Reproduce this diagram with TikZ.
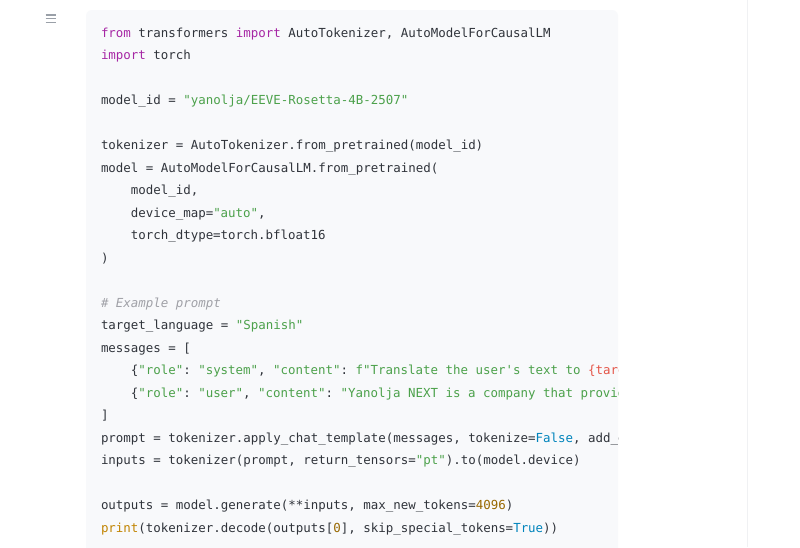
\documentclass[tikz,border=0pt]{standalone}
\usepackage{fontspec}
\setmonofont{DejaVu Sans Mono}
\definecolor{txt}{HTML}{30343B}
\definecolor{kwc}{HTML}{A626A4}
\definecolor{stc}{HTML}{4CA14B}
\definecolor{cmc}{HTML}{A0A1A7}
\definecolor{nmc}{HTML}{986801}
\definecolor{blc}{HTML}{0184BC}
\definecolor{rdc}{HTML}{E45649}
\definecolor{prc}{HTML}{C18401}
\definecolor{boxbg}{HTML}{F8F9FB}
\definecolor{sepline}{HTML}{F0F1F3}
\definecolor{iconc}{HTML}{9AA0A8}
\newcommand\Ckw[1]{\textcolor{kwc}{#1}}
\newcommand\Cst[1]{\textcolor{stc}{#1}}
\newcommand\Ccm[1]{\textcolor{cmc}{\itshape #1}}
\newcommand\Cnm[1]{\textcolor{nmc}{#1}}
\newcommand\Cbl[1]{\textcolor{blc}{#1}}
\newcommand\Crd[1]{\textcolor{rdc}{#1}}
\newcommand\Cpr[1]{\textcolor{prc}{#1}}
\begin{document}
\begin{tikzpicture}[x=1pt,y=-1pt,
  codeline/.style={anchor=base west, inner sep=0pt, outer sep=0pt, text=txt,
    font=\ttfamily\fontsize{12.45}{22.5}\selectfont},
  iconbar/.style={draw=iconc, line width=1.4pt}]
\useasboundingbox (0,0) rectangle (800,547);
\fill[white] (0,0) rectangle (800,547);
% separator line on the right
\draw[sepline, line width=1pt] (747,0) -- (747,547);
% hamburger icon
\coordinate (h1a) at (45.5,15); \coordinate (h1b) at (56,15);
\coordinate (h2a) at (45.5,18.7); \coordinate (h2b) at (56,18.7);
\coordinate (h3a) at (45.5,22.4); \coordinate (h3b) at (56,22.4);
\draw[iconbar] (h1a) -- (h1b);
\draw[iconbar] (h2a) -- (h2b);
\draw[iconbar] (h3a) -- (h3b);
% code box
\fill[boxbg, rounded corners=6pt] (86,10) rectangle (618,570);
\begin{scope}
\clip (86,0) rectangle (618,547);
\node[codeline] (l1) at (101,37) {\Ckw{from} transformers \Ckw{import} AutoTokenizer, AutoModelForCausalLM};
\node[codeline] (l2) at (101,59.5) {\Ckw{import} torch};
\node[codeline] (l4) at (101,104.5) {model\_id = \Cst{"yanolja/EEVE-Rosetta-4B-2507"}};
\node[codeline] (l6) at (101,149.5) {tokenizer = AutoTokenizer.from\_pretrained(model\_id)};
\node[codeline] (l7) at (101,172) {model = AutoModelForCausalLM.from\_pretrained(};
\node[codeline] (l8) at (130.8,194.5) {model\_id,};
\node[codeline] (l9) at (130.8,217) {device\_map=\Cst{"auto"},};
\node[codeline] (l10) at (130.8,239.5) {torch\_dtype=torch.bfloat16};
\node[codeline] (l11) at (101,262) {)};
\node[codeline] (l13) at (101,307) {\Ccm{\# Example prompt}};
\node[codeline] (l14) at (101,329.5) {target\_language = \Cst{"Spanish"}};
\node[codeline] (l15) at (101,352) {messages = [};
\node[codeline] (l16) at (130.8,374.5) {\{\Cst{"role"}: \Cst{"system"}, \Cst{"content"}: \Cst{f"Translate the user's text to }\Crd{\{target\_language\}}\Cst{."}\},};
\node[codeline] (l17) at (130.8,397) {\{\Cst{"role"}: \Cst{"user"}, \Cst{"content"}: \Cst{"Yanolja NEXT is a company that provides"}\},};
\node[codeline] (l18) at (101,419.5) {]};
\node[codeline] (l19) at (101,442) {prompt = tokenizer.apply\_chat\_template(messages, tokenize=\Cbl{False}, add\_generation\_prompt=\Cbl{True})};
\node[codeline] (l20) at (101,464.5) {inputs = tokenizer(prompt, return\_tensors=\Cst{"pt"}).to(model.device)};
\node[codeline] (l22) at (101,509.5) {outputs = model.generate(**inputs, max\_new\_tokens=\Cnm{4096})};
\node[codeline] (l23) at (101,532) {\Cpr{print}(tokenizer.decode(outputs[\Cnm{0}], skip\_special\_tokens=\Cbl{True}))};
\end{scope}
\end{tikzpicture}
\end{document}
